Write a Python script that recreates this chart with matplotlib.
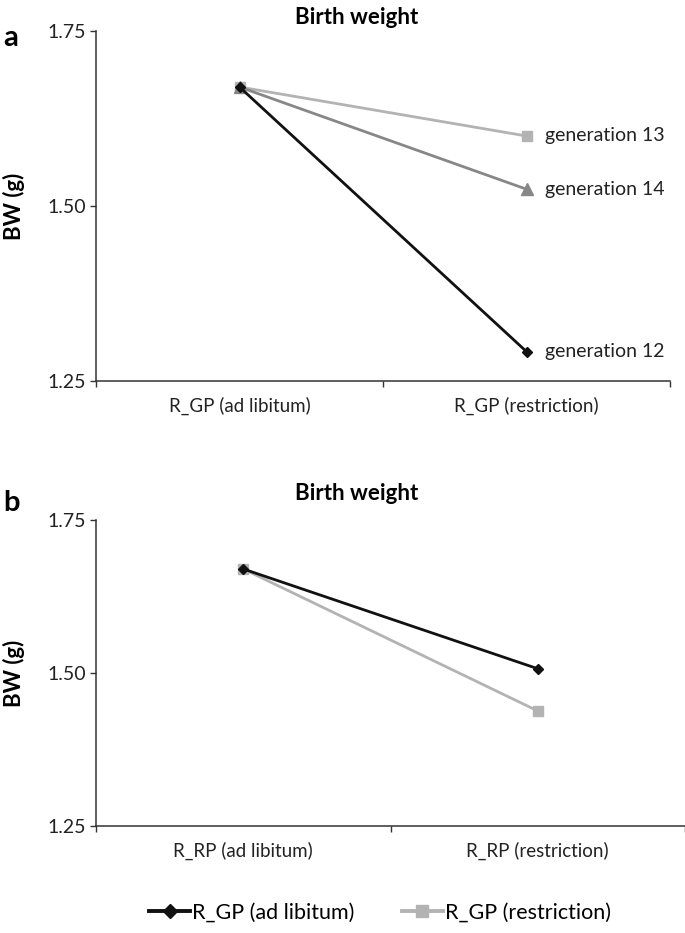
import numpy as np
import matplotlib.pyplot as plt
from matplotlib.lines import Line2D

plt.rcParams['font.family'] = ['Lato', 'DejaVu Sans']

# Panel a data
cats_a = ["R_GP (ad libitum)", "R_GP (restriction)"]
gen12 = [1.670, 1.292]
gen13 = [1.670, 1.600]
gen14 = [1.670, 1.524]
gen_labels = ["generation 12", "generation 13", "generation 14"]

# Panel b data
cats_b = ["R_RP (ad libitum)", "R_RP (restriction)"]
gp_adlib = [1.670, 1.507]
gp_restr = [1.670, 1.438]
legend_labels = ["R_GP (ad libitum)", "R_GP (restriction)"]

yticks = [1.25, 1.50, 1.75]

W, H = 685, 933
fig = plt.figure(figsize=(W / 100, H / 100), dpi=100)
FS = 13.5


def px_axes(left, top, right, bottom):
    return fig.add_axes([left / W, 1 - bottom / H, (right - left) / W, (bottom - top) / H])


def style_axes(ax, cats):
    ax.set_xlim(-0.5, 1.5)
    ax.set_ylim(1.25, 1.75)
    ax.set_yticks(yticks)
    ax.set_yticklabels([f"{v:.2f}" for v in yticks])
    ax.set_xticks([-0.5, 0.5, 1.5])
    ax.set_xticklabels([])
    ax.set_xticks([0, 1], minor=True)
    ax.set_xticklabels(cats, minor=True)
    ax.tick_params(axis='x', which='minor', length=0, pad=11, labelsize=FS, colors='#222222')
    ax.tick_params(axis='x', which='major', length=4, width=1, color='#333333')
    ax.tick_params(axis='y', length=4, width=1, pad=3, labelsize=14, color='#333333', labelcolor='#222222')
    for s in ['top', 'right']:
        ax.spines[s].set_visible(False)
    for s in ['left', 'bottom']:
        ax.spines[s].set_color('#333333')
        ax.spines[s].set_linewidth(1.1)
    ax.set_ylabel("BW (g)", fontsize=16, fontweight='bold', labelpad=16)
    ax.patch.set_alpha(0)


x = np.arange(2)

# Panel a
ax1 = px_axes(96, 31, 670, 381)
ax1.plot(x, gen13, color='#b3b3b3', lw=2.0, marker='s', ms=7, clip_on=False)
ax1.plot(x, gen14, color='#878787', lw=2.0, marker='^', ms=8, clip_on=False)
ax1.plot(x, gen12, color='#111111', lw=2.0, marker='D', ms=5.5, clip_on=False)
for vals, lab in zip([gen12, gen13, gen14], gen_labels):
    ax1.annotate(lab, (x[1], vals[1]), xytext=(13, 0), textcoords='offset points',
                 va='center', ha='left', fontsize=14, color='#222222')
style_axes(ax1, cats_a)

# Panel b
ax2 = px_axes(96, 520, 685, 826)
ax2.plot(x, gp_restr, color='#b3b3b3', lw=2.0, marker='s', ms=7, clip_on=False)
ax2.plot(x, gp_adlib, color='#111111', lw=2.0, marker='D', ms=5.5, clip_on=False)
style_axes(ax2, cats_b)

# Titles and panel letters
fig.text(357 / W, 1 - 18 / H, "Birth weight", ha='center', va='center', fontsize=16, fontweight='bold')
fig.text(357 / W, 1 - 494 / H, "Birth weight", ha='center', va='center', fontsize=16, fontweight='bold')
fig.text(3 / W, 1 - 38 / H, "a", ha='left', va='center', fontsize=21, fontweight='bold')
fig.text(3 / W, 1 - 503 / H, "b", ha='left', va='center', fontsize=21, fontweight='bold')

# Legend
handles = [Line2D([], [], color='#111111', lw=2.8, marker='D', ms=7),
           Line2D([], [], color='#b3b3b3', lw=2.8, marker='s', ms=9)]
fig.legend(handles, legend_labels, loc='center', bbox_to_anchor=(0.555, 1 - 913 / H), ncol=2,
           frameon=False, fontsize=15.5, handlelength=1.9, handletextpad=0.1, columnspacing=2.2)

fig.savefig("out.png", dpi=100)
